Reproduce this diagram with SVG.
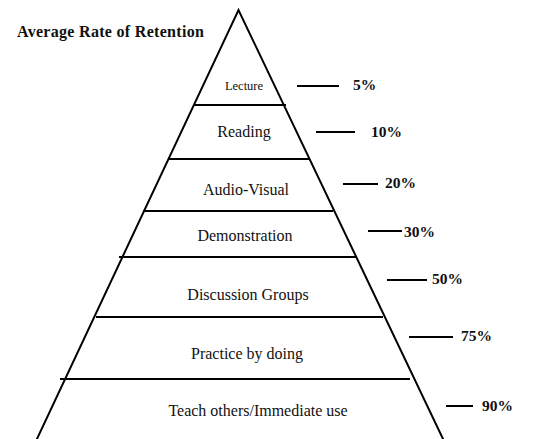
<svg xmlns="http://www.w3.org/2000/svg" width="533" height="439" viewBox="0 0 533 439">
<style>
.ln{stroke:#000;stroke-width:2;fill:none}
text{font-family:'Liberation Serif','Times New Roman',serif;fill:#111}
.lbl{font-size:16px;text-anchor:middle}
.sm{font-size:12.5px}
.pct{font-size:15.5px;font-weight:bold}
.title{font-size:16px;font-weight:bold;letter-spacing:0.3px}
</style>
<rect width="533" height="439" fill="#fff"/>
<text class="title" x="17" y="37">Average Rate of Retention</text>
<g id="pyramid">
<path class="ln" d="M36,441 L238.5,10 L444,441"/>
</g>
<g id="layers">
<line class="ln" x1="194" y1="105" x2="286" y2="105"/>
<line class="ln" x1="169" y1="159" x2="310" y2="159"/>
<line class="ln" x1="143" y1="211" x2="333" y2="211"/>
<line class="ln" x1="119" y1="257" x2="356" y2="257"/>
<line class="ln" x1="96" y1="317" x2="383" y2="317"/>
<line class="ln" x1="60" y1="379" x2="410" y2="379"/>
</g>
<g id="lecture"><text class="lbl sm" x="244" y="90">Lecture</text></g>
<g id="reading"><text class="lbl" x="244" y="137">Reading</text></g>
<g id="audio-visual"><text class="lbl" x="246" y="195">Audio-Visual</text></g>
<g id="demonstration"><text class="lbl" x="245" y="241">Demonstration</text></g>
<g id="discussion"><text class="lbl" x="248" y="300">Discussion Groups</text></g>
<g id="practice"><text class="lbl" x="247" y="359">Practice by doing</text></g>
<g id="teach"><text class="lbl" x="258" y="416">Teach others/Immediate use</text></g>
<g id="connectors">
<line class="ln" x1="297" y1="86" x2="339" y2="86"/>
<line class="ln" x1="316" y1="132" x2="355" y2="132"/>
<line class="ln" x1="343" y1="184" x2="378" y2="184"/>
<line class="ln" x1="368" y1="231" x2="402" y2="231"/>
<line class="ln" x1="387" y1="280" x2="427" y2="280"/>
<line class="ln" x1="409" y1="337" x2="453" y2="337"/>
<line class="ln" x1="446" y1="406" x2="473" y2="406"/>
</g>
<g id="percentages">
<text class="pct" x="353" y="90">5%</text>
<text class="pct" x="371" y="137">10%</text>
<text class="pct" x="385" y="188">20%</text>
<text class="pct" x="404" y="237">30%</text>
<text class="pct" x="432" y="284">50%</text>
<text class="pct" x="461" y="341">75%</text>
<text class="pct" x="482" y="411">90%</text>
</g>
</svg>
